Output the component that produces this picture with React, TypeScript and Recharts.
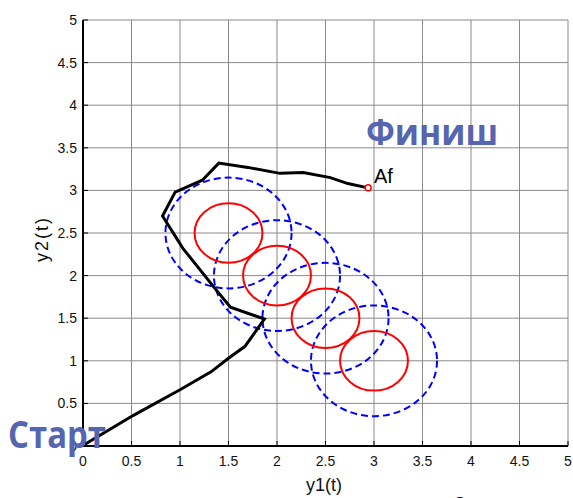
import {
  ComposedChart,
  Line,
  XAxis,
  YAxis,
  CartesianGrid,
  ReferenceArea,
  ReferenceDot,
} from "recharts"

// trajectory y1(t), y2(t)
const trajX = [0.02, 0.52, 1.0, 1.32, 1.5, 1.67, 1.87, 1.52, 1.36, 1.03, 0.82, 0.95, 1.23, 1.4, 1.7, 2.03, 2.27, 2.55, 2.73, 2.94]
const trajY = [0.02, 0.36, 0.66, 0.87, 1.03, 1.17, 1.49, 1.63, 1.85, 2.32, 2.7, 2.98, 3.12, 3.32, 3.27, 3.2, 3.21, 3.15, 3.08, 3.03]

// obstacle circles
const centerX = [1.5, 2, 2.5, 3]
const centerY = [2.5, 2, 1.5, 1]
const innerR = 0.35
const outerR = 0.65

const ticks = [0, 0.5, 1, 1.5, 2, 2.5, 3, 3.5, 4, 4.5, 5]
const tickLabels = ["0", "0.5", "1", "1.5", "2", "2.5", "3", "3.5", "4", "4.5", "5"]

const data = trajX.map((x, i) => ({ x, y: trajY[i] }))

const W = 573
const H = 498
const font = "'Liberation Sans', Arial, sans-serif"
const blueText = "#5565b0"

const label = (v: number) => tickLabels[ticks.indexOf(v)] ?? String(v)

const BottomTick = ({ x, y, payload }: any) => (
  <g>
    <line x1={x} y1={y} x2={x} y2={y - 5} stroke="#000" />
    <text x={x} y={y + 20} textAnchor="middle" fontSize={14} fontFamily={font} fill="#111">
      {label(payload.value)}
    </text>
  </g>
)

const LeftTick = ({ x, y, payload }: any) => (
  <g>
    <line x1={x} y1={y} x2={x + 5} y2={y} stroke="#000" />
    <text x={x - 6} y={y + 5} textAnchor="end" fontSize={14} fontFamily={font} fill="#111">
      {label(payload.value)}
    </text>
  </g>
)

const TopTick = ({ x, y }: any) => (
  <line x1={x} y1={y} x2={x} y2={y + 5} stroke="#000" />
)

const RightTick = ({ x, y }: any) => (
  <line x1={x} y1={y} x2={x - 5} y2={y} stroke="#000" />
)

const ellipse = (stroke: string, dash?: string) => (p: any) => (
  <ellipse
    cx={p.x + p.width / 2}
    cy={p.y + p.height / 2}
    rx={Math.abs(p.width / 2)}
    ry={Math.abs(p.height / 2)}
    fill="none"
    stroke={stroke}
    strokeWidth={2}
    strokeDasharray={dash}
  />
)

export default function App() {
  const last = data[data.length - 1]

  return (
    <div style={{ position: "absolute", left: 0, top: 0, width: W, height: H, background: "#fff" }}>
      <ComposedChart
        width={W}
        height={H}
        data={data}
        margin={{ top: 20, right: 5, left: 0, bottom: 0 }}
      >
        <CartesianGrid stroke="#8a8a8a" strokeWidth={1} />

        <XAxis
          dataKey="x"
          type="number"
          domain={[0, 5]}
          ticks={ticks}
          interval={0}
          height={52}
          tickSize={0}
          tickMargin={0}
          tick={<BottomTick />}
          axisLine={{ stroke: "#000", strokeWidth: 2 }}
          tickLine={false}
        />
        <XAxis
          xAxisId="top"
          orientation="top"
          dataKey="x"
          type="number"
          domain={[0, 5]}
          ticks={ticks}
          interval={0}
          height={0}
          tickSize={0}
          tickMargin={0}
          tick={<TopTick />}
          axisLine={{ stroke: "#000", strokeWidth: 2 }}
          tickLine={false}
        />
        <YAxis
          type="number"
          domain={[0, 5]}
          ticks={ticks}
          interval={0}
          width={83}
          tickSize={0}
          tickMargin={0}
          tick={<LeftTick />}
          axisLine={{ stroke: "#000", strokeWidth: 2 }}
          tickLine={false}
        />
        <YAxis
          yAxisId="right"
          orientation="right"
          type="number"
          domain={[0, 5]}
          ticks={ticks}
          interval={0}
          width={0}
          tickSize={0}
          tickMargin={0}
          tick={<RightTick />}
          axisLine={{ stroke: "#000", strokeWidth: 2 }}
          tickLine={false}
        />

        {centerX.map((cx, i) => (
          <ReferenceArea
            key={"o" + i}
            x1={cx - outerR}
            x2={cx + outerR}
            y1={centerY[i] - outerR}
            y2={centerY[i] + outerR}
            shape={ellipse("#0000ff", "7 4")}
          />
        ))}
        {centerX.map((cx, i) => (
          <ReferenceArea
            key={"i" + i}
            x1={cx - innerR}
            x2={cx + innerR}
            y1={centerY[i] - innerR}
            y2={centerY[i] + innerR}
            shape={ellipse("#ff0000")}
          />
        ))}

        <Line
          dataKey="y"
          stroke="#000"
          strokeWidth={3}
          dot={false}
          isAnimationActive={false}
        />

        <ReferenceDot
          x={last.x}
          y={last.y}
          r={3}
          fill="#fff"
          stroke="#ff0000"
          strokeWidth={1.5}
        />
      </ComposedChart>

      <svg
        width={W}
        height={H}
        style={{ position: "absolute", left: 0, top: 0, pointerEvents: "none" }}
      >
        <text x={374} y={183} fontSize={20} fontFamily={font} fill="#000">Af</text>
        <text x={324} y={491} fontSize={18} fontFamily={font} textAnchor="middle" fill="#111">y1(t)</text>
        <text
          x={48}
          y={239}
          fontSize={18}
          fontFamily={font}
          textAnchor="middle"
          letterSpacing={2}
          fill="#111"
          transform="rotate(-90 48 239)"
        >
          y2(t)
        </text>
        <text x={460} y={514} fontSize={24} fontFamily={font} textAnchor="middle" fill="#111">8</text>
        <text
          x={366}
          y={145}
          fontSize={36}
          fontWeight={700}
          fontFamily="'Open Sans', sans-serif"
          fill={blueText}
          textLength={132}
          lengthAdjust="spacingAndGlyphs"
        >
          Финиш
        </text>
        <text
          x={8}
          y={448}
          fontSize={38}
          fontWeight={700}
          fontFamily="'Open Sans', sans-serif"
          fill={blueText}
          textLength={98}
          lengthAdjust="spacingAndGlyphs"
        >
          Старт
        </text>
      </svg>
    </div>
  )
}
